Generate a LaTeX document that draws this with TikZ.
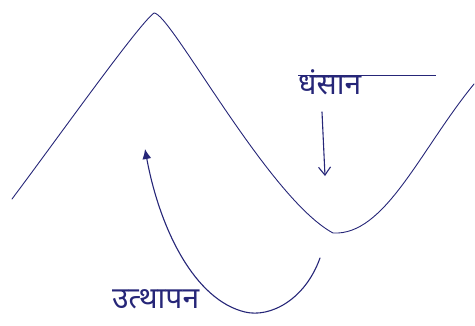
\documentclass[tikz,border=0pt]{standalone}
\usepackage{fontspec}
\newfontfamily\devfont[Script=Devanagari]{Noto Sans}
\usetikzlibrary{arrows.meta,positioning}
\definecolor{ink}{RGB}{38,38,120}

\begin{document}
\begin{tikzpicture}[
    x=1pt, y=-1pt,
    wave/.style={draw=ink, line width=0.9pt, line cap=round},
    move/.style={draw=ink, line width=1.1pt, line cap=round},
    word/.style={text=ink, font=\devfont\fontsize{30}{32}\selectfont, inner sep=0pt}
  ]
  \useasboundingbox (0,0) rectangle (475,325);

% --- folded surface ---
  \coordinate (start) at (12,199);
  \coordinate (crest) at (154,13);
  \coordinate (trough) at (333,233);
  \coordinate (rim) at (474,84);
  \draw[wave] (start) .. controls (60,135) and (138,25) .. (crest)
    .. controls (170,12) and (268,198) .. (trough)
    .. controls (385,236) and (420,150) .. (rim);

% --- subsidence ---
  \node[word, anchor=west] (sink) at (298,82) {धंसान};
  \draw[ink, line width=0.8pt] (sink.west |- 0,75) -- (436,75);
  \coordinate (sinktop) at (322,112);
  \coordinate (sinkend) at (325,176);
  \draw[move, -{Straight Barb[length=8pt,width=12pt]}] (sinktop) -- (sinkend);

% --- uplift ---
  \node[word, anchor=west] (rise) at (112,299) {उत्थापन};
  \coordinate (risetop) at (320,258);
  \coordinate (risehead) at (145,149);
  \draw[move, -{Latex[length=10pt,width=9pt]}] (risetop)
    .. controls (305,300) and (270,318) .. (245,312)
    .. controls (195,300) and (160,230) .. (risehead);

\end{tikzpicture}
\end{document}
